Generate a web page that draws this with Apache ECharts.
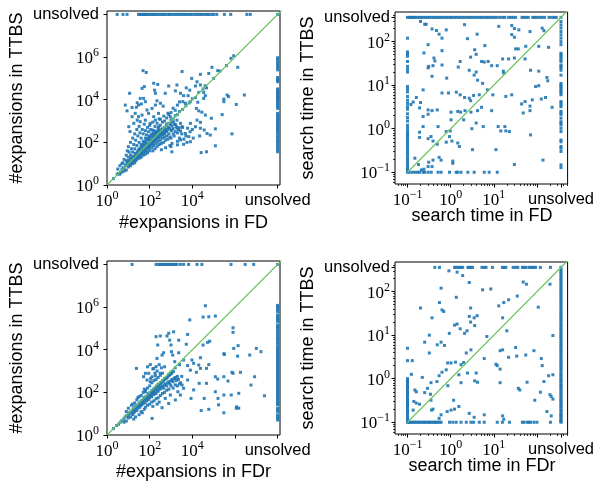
<!DOCTYPE html>
<html><head><meta charset="utf-8">
<script src="https://cdn.jsdelivr.net/npm/echarts@6/dist/echarts.min.js"></script>
<style>html,body{margin:0;padding:0;background:#fff}#c{width:597px;height:485px}</style>
</head><body><div id="c"></div>
<script>
// ---------------- DATA ----------------
const UNSOLVED_EXPANSIONS = 1e8;   // value plotted for "unsolved" in expansion panels
const UNSOLVED_TIME = 360;         // value plotted for "unsolved" in time panels (s)
const MIN_TIME = 0.1;              // time floor

// Panel 1: #expansions FD (x) vs TTBS (y)
const expFD_pairs = [
[49,2.3e5],[69,1.9e5],[3.3e3,2.1e5],[6.5e5,8.7e5],[8.7e5,1.15e6],[1.35e6,3.3e5],[8.3e4,3.3e5],[1.55e5,2.3e5],[5.9e4,1.7e5],[2.4e4,1.55e5],[9.3e3,1e5],[1.66e4,6.9e4],[2.4e4,4.9e4],[1.4e4,4.4e4],[5.2e3,3.6e4],[7.6e3,2.8e4],[1.9e3,4.9e4],[780,4.4e4],[1.6e3,2.6e4],[2.8e3,2e4],[3.9e3,1.55e4],[6.3e3,1.55e4],[8.1e3,8.1e3],[4.7e3,6.8e3],[3.6e3,8.1e3],[155,5.9e4],[240,5.2e4],[56,4.1e4],[44,3.4e4],[11.5,2e4],[170,2.8e4],[186,2e4],[540,2e4],[36,1.15e4],[63,8.1e3],[320,6.8e3],[430,5e3],[8.7,3e3],[15,4.3e3],[24,4.4e3],[30,5.6e3],
[4.6e4,3.6e4],[3.4e4,2.2e4],[4.1e4,1.55e4],[3.4e4,1.15e4],[1.8e4,7.6e3],[4.3e5,1.66e4],[5e5,1.4e4],[3e5,1.07e4],[2.75e6,1.66e4],[1.15e6,6e3],[3e5,8.1e3],[1.55e4,3.9e3],[2e4,3e3],[2.8e4,2.6e3],[4.1e4,1.9e3],[7.8e4,1.35e3],[2.5e5,2e3],[1.66e4,1.1e3],[2.4e4,870],[8.1e3,780],[1.4e4,540],[2.4e4,460],[3.6e4,380],[4.9e4,260],[6.9e4,220],[1.2e5,430],[7.2e5,250],[2.2e4,200],[1.2e5,69],[4.6e4,36],[2.6e4,33],[6.8e3,186],[8.1e3,107],[2.8e3,130],[3.9e3,81],[2e3,76],[1e3,63],[1.1e3,36],[2.8e3,340],[4.7e3,260],[6e3,460],[2.4e3,490],[1.6e3,690],
[7.2,5.6e3],[26,7.2e3],[41,6.3e3],[75,3.3e3],[129,3.9e3],[186,5.6e3],[220,8.9e3],[52,1.15e4],[21,2.3e3],[30,1.6e3],[44,1.9e3],[89,2.3e3],[155,1.6e3],[260,2.3e3],[15,1.6e3],[10.5,540],[12,320],[18,780],[26,1.1e3],[36,930],[63,1.1e3],[107,780],[186,1.1e3],[320,1.2e3],[460,1.7e3],[720,2.3e3],[930,1.6e3],[1.1e3,930],[1.9e3,1.1e3],[2.8e3,780],[3.3e3,540],[1.9e3,460],[1.1e3,380],[540,380],[380,260],[260,540],[129,380],
[2,2],[3,3.2],[3.5,3.5],[4.3,4],[5,5.2],[5.6,6.3],[6.3,6],[7.2,8],[8,9],[9,10],[10,11],[11,12.6],[12.6,12.6],[14,16],[16,17],[18,20],[20,19],[22,25],[25,28],[28,26],[32,35],[35,32],[40,45],[45,40],[50,56],[56,50],[63,71],[71,63],[79,89],[89,79],[100,112],[112,100],[126,126],[158,178],[200,200],[250,280],[316,316],[400,420],[500,500],[630,710],[790,790],[1000,1120],[1260,1260],[1580,1780],[2000,2000],[2500,2800],[3500,3500],[5000,5200],[7100,7100],[1e4,1.1e4],[1.4e4,1.26e4],[2e4,2.2e4],[3.2e4,3.2e4],[4e4,4.5e4],[1e5,1e5],[2e5,2.2e5],[4e5,4e5],
[6.3,16],[8,25],[9,40],[10,20],[10,63],[11,35],[12.6,100],[12.6,25],[14,50],[16,158],[16,35],[18,79],[20,250],[20,50],[22,126],[25,71],[25,400],[28,200],[32,100],[32,560],[35,280],[40,79],[40,158],[45,400],[50,112],[50,250],[56,710],[63,158],[63,355],[71,224],[79,500],[79,141],[89,316],[100,200],[100,630],[112,400],[126,250],[141,890],[158,355],[178,560],[200,316],[224,790],[250,450],[280,1260],[316,630],[400,890],[500,1000],[630,1400],[790,2000],[1000,2500],[1260,4000],[1580,3200],[2000,5600],[2500,7900],[5,10],[4,8],[3.2,5.6],[8,14],[5.6,11],
[8,5],[10,7],[12.6,8],[16,10],[20,11],[22,14],[25,16],[32,18],[35,22],[40,20],[45,28],[50,25],[56,35],[63,28],[71,40],[79,32],[89,50],[100,40],[100,63],[126,56],[126,79],[141,40],[158,71],[158,100],[178,50],[200,89],[200,126],[224,63],[250,112],[250,158],[280,79],[316,126],[316,178],[355,89],[400,158],[400,224],[450,100],[500,178],[500,250],[560,126],[630,200],[630,316],[710,141],[790,250],[890,178],[1000,355],[1000,158],[1260,250],[1260,450],[1410,200],[1580,316],[1780,560],[2000,280],[2240,400],[2500,158],[3200,250],[3500,500],[4000,141],[5000,200],[5600,100],[7900,316],[1e4,400],[1.1e4,158],[2000,112],[1120,89],[890,71],[560,56],[355,45],[4,3.2],[5,4],[6.3,4.5],[11,9],[14,11],[18,14],[28,20],
[9,12],[11,14],[13,18],[15,13],[17,22],[19,15],[21,30],[23,19],[26,36],[27,22],[30,45],[31,24],[34,50],[37,30],[39,60],[42,33],[46,70],[48,38],[52,85],[54,44],[58,110],[61,48],[66,95],[68,56],[74,130],[76,60],[83,150],[86,70],[95,180],[97,75],[105,140],[108,90],[118,210],[120,95],[135,170],[138,110],[150,260],[152,120],[165,200],[170,135],[190,280],[195,150],[215,240],[220,170],[240,330],[245,190],[270,290],[275,210],[300,380],[305,230],[340,300],[345,260],[380,420],[390,280],[440,350],[460,300],[520,450],[540,330],[600,600],[680,400],[750,520],[850,450],[950,700],[1100,600],[1300,900],[1500,700]
];
// FD expansions where TTBS is unsolved
const expFD_ttbsUnsolved = [3,5.6,8.7,30,35,40,48,55,62,70,85,100,120,140,170,200,250,300,380,450,550,700,850,1000,1300,1600,2000,2500,3200,4000,5000,6500,8000,1e4,1.3e4,1.6e4,2e4,2.5e4,3e4,4e4,5e4,6e4,8e4,1e5,1.4e5,3.2e5,6.3e5,3.6e6,5.2e6,1e8];
// TTBS expansions where FD is unsolved
const expFD_fdUnsolved = [9.3e5,7.8e5,6e5,4.9e5,3.9e5,3.2e5,2.5e5,1.1e5,9.3e4,8.1e4,6.9e4,3.2e4,2.8e4,2.4e4,2e4,1.8e4,1.5e4,1.3e4,1.15e4,9.6e3,8.1e3,6.7e3,5.6e3,4.7e3,3.9e3,2.3e3,1.9e3,1.6e3,1.3e3,1.1e3,930,780,650,540,450,380,320,260,200,165,130,110,87,69,56,45,36];

// Panel 3: #expansions FDr (x) vs TTBS (y)
const expFDr_pairs = [
[4.1e4,1.15e6],[3.2e4,3.4e5],[5.9e4,3.5e5],[1.2e5,3.8e5],[7.6e3,2.5e5],[8.1e5,1.07e5],[8.1e5,6.5e4],[1.33e3,6.9e4],[780,5.9e4],[650,4.4e4],[200,4.1e4],[316,4.4e4],[6e3,5.2e4],[870,2.8e4],[1e3,1.66e4],[2.3e3,2.8e4],[5.2e3,1.8e4],[240,1.66e4],[450,7.2e3],[380,5.6e3],[1.05e3,8.1e3],[1.2e3,5.6e3],[2.3e3,7.2e3],[1.5e3,2.75e3],[3.9e3,3.3e3],[9.6e3,3.3e3],[2.4e4,4.2e3],[5.2e4,2.2e4],[6.5e4,2.5e4],[3.2e4,1.66e4],[2e4,1.9e3],[1.15e4,2.3e3],[6e3,1.8e3],[8.1e3,1.1e3],[1.55e4,870],[2.4e4,1.33e3],[4.6e4,1.33e3],[5.9e4,2e3],[3.2e5,6e3],[1.33e6,5e3],[4.9e6,5.6e3],[1e7,1.15e4],[1.65e7,8.1e3],[1.4e6,1.55e4],[8.7e5,1.15e4],[3e5,6.5e3],[1.2e5,540],[1.55e5,420],[3e5,540],[4.7e5,340],[7.2e5,870],[8.1e5,780],[1.8e6,870],[8.3e6,540],[5.6e6,220],[1.5e6,90],[2.4e7,69],[6.7e5,75],[1.2e6,21],[1.5e6,18],[1.15e6,18],[3e5,75],[1.6e5,52],[1.7e5,26],[3e5,11],[1.2e5,107],[5.9e4,16],[2.6e4,14],[3.6e4,52],[4.6e4,265],[2.1e4,265],[1.15e4,130],[8.7e3,52],[3.9e3,155],[2.75e3,75],[1.6e3,44],[2.1e3,107],[930,75],[540,52],[780,30],[380,19],[130,6],[6e3,380],[3.3e3,220],[1.6e3,450],
[24,1330],[63,780],[107,2000],[155,1330],[220,3900],[200,1600],[130,540],[52,540],[75,380],[63,107],[107,316],[186,600],[316,780],[90,780],
[2,2],[2.8,2.8],[3.5,3.2],[4.2,4],[5,4.8],[6,5.6],[7,7],[8.3,8],[10,9.3],[11,11],[12.6,12],[15,14],[17,17],[20,19],[22,22],[26,25],[32,30],[35,35],[42,40],[50,48],[56,56],[66,63],[79,76],[89,89],[105,100],[126,120],[150,141],[178,166],[210,200],[250,240],[316,280],[400,355],[500,450],[630,500],[790,710],[1000,890],[1580,1410],[2500,2000],
[6.3,4],[8,4.5],[10,6.3],[12.6,7],[16,9],[18,11],[20,12.6],[25,14],[28,18],[35,20],[40,25],[45,28],[50,32],[60,32],[71,40],[79,50],[89,45],[100,56],[112,71],[126,63],[141,89],[158,79],[178,100],[200,89],[224,126],[250,112],[280,158],[316,141],[355,178],[400,200],[450,158],[500,224],[560,250],[630,200],[710,280],[790,316],[890,250],[1000,355],[1120,400],[1260,316],[1410,450],[1580,500],[1780,355],[2000,560],[2240,400],[2800,280],[3200,560],
[32,9],[40,12.6],[56,16],[63,20],[79,25],[100,28],[126,35],[158,40],[200,50],[250,56],[316,71],[400,89],[500,100],[630,126],[790,141],[1000,200],[1260,158],[1580,224],[2000,200],[2500,250],[280,35],[224,28],[45,11],[22,7],[18,5.6],[141,22],
[8,12.6],[10,18],[14,25],[20,32],[25,45],[32,63],[40,71],[50,100],[63,126],[79,158],[100,200],[126,280],[158,355],[200,400],[250,500],[316,630],[16,28],[28,56],[56,141],[112,450],[178,790],[400,790],[224,1000],[141,1260],[79,1580],[280,2000],[355,1410],[500,1580],
[9,8],[11,10],[13,11],[15,12],[17,15],[19,16],[21,18],[23,20],[26,22],[29,24],[33,27],[37,33],[41,35],[46,40],[52,44],[58,50],[65,55],[72,60],[82,70],[92,80],[103,85],[115,95],[130,110],[145,120],[162,135],[185,150],[205,170],[230,190],[260,210],[290,240],[330,270],[370,300],[420,330],[470,380],[530,420],[600,460],[680,520],[760,600],[860,650],[960,720],[1100,800],[1300,950]
];
const expFDr_ttbsUnsolved = [15,200,265,316,380,450,540,650,780,930,1120,1330,1590,1900,2750,3900,6700,1.66e4,2.8e4,6.5e5,3e6,7.5e6,1e8];
const expFDr_fdrUnsolved = [1.2e6,1.05e6,8.7e5,7.2e5,6e5,4.2e5,3.5e5,2.95e5,2.5e5,2e5,1.4e5,1.2e5,1e5,8.3e4,6.5e4,5.2e4,4.1e4,3.4e4,2.8e4,2.2e4,1.8e4,1.4e4,1.15e4,9.6e3,8.1e3,6.7e3,5.6e3,4.7e3,3.9e3,3.3e3,2.75e3,2.3e3,1.9e3,1.6e3,1.33e3,1.1e3,930,780,650,540,450,380,316,265,220,185,155,130,107,90,75,63,52,44,36,30,26,18,15,12.4,8.7,7.2,6,5];

// Panel 2: search time FD (x) vs TTBS (y), seconds
const timeFD_pairs = [
[0.2,290],[0.25,250],[0.27,250],[0.37,195],[0.47,180],[0.54,148],[0.79,186],[0.63,120],[2.1,245],[2.45,117],[4.1,148],[13,224],[26,234],[30,200],[38,186],[26,145],[30,126],[69,170],[132,204],[145,178],
[0.3,85],[0.24,55],[0.63,62],[0.41,42],[0.43,36],[0.31,27],[0.3,25],[0.39,28],[0.63,29],[0.37,16],[0.81,14.5],[1.5,26],[1.66,35],[2.9,44],[3.6,65],[3.9,51],[6.2,81],[5.2,35],[7.4,35],[12,28],[16,40],[16.6,21],[17,19],[22,40],[30,42],[32,68],[37,68],[55,78],[110,78],[186,74],[53,40],[110,21],[178,12.6],[110,9.7],[126,4.8],[224,3.1],[69,3.3],[53,4.2],[44,3.7],[48,2.3],[69,2.6],[26,6],[9.5,6],[4.6,6],[3.4,5.8],[2.9,4.4],[2.7,5],[2.1,5.2],[1.66,6],[1.35,6.9],[0.89,6.6],[0.63,6.6],[0.23,7.8],[0.16,5.2],[0.2,4],[0.19,3],[0.135,4.1],[0.12,3.6],[0.3,2.7],[0.3,2.15],[0.23,1.9],[0.37,2.6],[0.49,2.7],[1.02,2.4],[1.46,2.5],[1.7,2.4],[2.15,2.6],[2.95,2.4],[4.2,2.6],[5.2,3.1],[8.9,2.6],[2,1.6],[1.02,1.6],[3.9,1.35],[5.7,1.12],[3.1,1.0],[0.23,1.12],[0.51,1.12],[0.79,0.86],[0.98,0.89],[0.94,0.66],[0.35,0.66],[0.3,0.59],[0.19,0.83],[0.19,0.63],[0.39,0.52],[0.49,0.44],[0.79,0.49],[1.07,0.52],[1.46,0.47],[1.59,0.39],[3.2,0.33],[1.12,0.18],[1.12,0.16],[0.6,0.19],[0.54,0.22],[0.39,0.19],[0.37,0.135],[0.3,0.135],[0.24,0.117],[0.21,0.113],[0.148,0.21],[0.18,0.15],[0.31,0.17],[12.6,1.12],[14.5,0.89],[18,1.12],[19,0.89],[23,0.86],[11.2,0.33],[30,0.15],[71,0.72],[138,0.19],[78,4.6],[158,5.2],[93,9.3],[170,15],[7.1,7.8],[5.5,11],[4.2,13],[3.5,17],[3.9,20],[2.7,22],[8.9,28],[6,34],[19,5.5],[71,22]
];
const timeFD_ttbsUnsolved = [0.1,0.11,0.12,0.13,0.14,0.15,0.17,0.19,0.21,0.23,0.26,0.29,0.32,0.36,0.4,0.45,0.5,0.56,0.63,0.71,0.8,0.9,1.0,1.1,1.25,1.4,1.6,1.8,2.0,2.3,2.6,2.9,3.3,3.7,4.2,4.7,5.3,6,6.8,7.5,8.5,9.5,10.5,12,14,16,18,22,25,28,32,45,50,56,63,80,90,100,115,130,150,190,220,250,280,360];
const timeFD_fdUnsolved = [290,243,205,170,143,120,100,85,54,50,46,42,38,35,29,27,25,22,17,11,10,9.3,8.5,7.8,7.1,6.6,6,4.2,3.9,3.5,3.2,2.5,2.3,2.1,1.74,1.45,1.34,1.22,1.02,0.86,0.55,0.5,0.39,0.355,0.3,0.148,0.128];
const timeFD_fdAtMin = [120,58,52,46,35,27,23,20,9.3,8,7,5.5,4.5,3.8,3.2,2.8,2.2,1.8,1.5,1.2,1.05,0.9,0.8,0.72,0.65,0.58,0.52,0.47,0.42,0.38,0.34,0.3,0.27,0.24,0.21,0.19,0.17,0.15,0.135,0.12,0.11,0.1];
const timeFD_ttbsAtMin = [0.11,0.128,0.147,0.17,0.19,0.23,0.25,0.3,0.355,0.51,0.6,0.94,1.34,1.46,1.74,2.5,3.5,6,7.8,12];

// Panel 4: search time FDr (x) vs TTBS (y), seconds
const timeFDr_pairs = [
[0.91,300],[1.41,280],[1.9,234],[2.7,162],[0.6,120],[1.35,74],[5.5,110],[8.5,115],[48,166],[57,148],[200,148],[35,79],[22,65],[17,56],[13,47],[107,44],[0.55,56],[0.63,38],[0.69,35],[0.2,42],[0.37,25],[2.9,42],[2.7,27],[4.1,28],[3.6,16.6],[3.5,25],[2.9,20],[1.41,18],[1.23,17],[1.66,14],[2.1,11],[2.4,12.6],[0.93,11],[0.32,10],[0.25,6.9],[0.6,6.9],[0.72,5.8],[6.9,9.3],[16,25],[20,12.6],[14,4.4],[16,4.6],[32,5.2],[34,3.3],[22,3.1],[55,3.5],[85,4.4],[126,2.9],[132,2],[234,9.8],[234,1.23],[186,1.17],[145,0.86],[120,0.49],[59,0.83],[40,0.55],[37,0.6],[89,0.32],[200,0.43],[214,0.39],[234,0.34],[170,0.176],[214,0.14],[14,0.81],[11.2,2.15],[12,2],[14,1.66],[6,2.9],[3.9,1.35],[3.6,0.89],[4.2,0.83],[2.45,1.35],[1.55,1.23],[1.74,0.81],[2,2.35],[1.29,2.4],[1.02,2.3],[0.85,2.3],[0.79,1.6],[0.63,1.41],[0.86,0.69],[0.54,1.17],[0.48,0.86],[0.35,0.81],[0.29,0.6],[0.25,0.48],[0.34,0.44],[0.22,1.07],[0.32,3.9],[0.49,6],[0.129,2.6],[0.123,1.26],[0.148,0.55],[0.16,0.5],[0.14,0.3],[0.16,0.275],[0.19,0.26],[0.135,0.19],[0.35,0.32],[0.39,0.2],[0.36,0.19],[0.54,0.123],[0.6,0.148],[0.83,0.176],[1.02,0.19],[1.17,0.32],[1.23,0.2],[1.55,0.23],[2.7,0.16],[3.5,0.13],[6,0.148],[16,0.14],[17,0.117],[2.95,4.6],[2.3,3.9],[1.74,2.1]
];
const timeFDr_ttbsUnsolved = [0.43,0.55,1.23,1.34,1.46,1.6,1.74,1.9,2.5,2.7,2.95,3.2,5.3,6,6.6,9.3,15.8,17.3,19,28,32,36,46,50,55,65,71,78,85,93,120,205,360];
const timeFDr_fdrUnsolved = [0.1,0.105,0.11,0.12,0.13,0.14,0.15,0.16,0.18,0.19,0.21,0.23,0.25,0.27,0.3,0.32,0.35,0.38,0.42,0.45,0.5,0.55,0.6,0.65,0.7,0.77,0.85,0.92,1.0,1.1,1.2,1.3,1.45,1.6,1.75,1.9,2.1,2.3,2.5,2.75,3.0,3.3,3.6,4.0,4.4,4.8,5.3,5.8,6.4,7.0,7.7,8.5,9.3,10.2,11.2,12.3,13.5,15,16.5,18,20,22,24,26.5,29,32,35,39,43,47,52,57,63,69,76,84,92,100,110,122,134,148,163,180,198,218,240,265,290,320];
const timeFDr_fdrAtMin = [5,2.6,1.0,0.92,0.85,0.78,0.72,0.66,0.6,0.55,0.5,0.46,0.42,0.38,0.35,0.32,0.29,0.27,0.25,0.23,0.21,0.19,0.175,0.16,0.145,0.13,0.12,0.11,0.1];
const timeFDr_ttbsAtMin = [0.107,0.115,0.123,0.135,0.147,0.16,0.176,0.19,0.21,0.23,0.25,0.27,0.3,0.325,0.355,0.39,0.425,0.46,0.5,0.55,0.6,0.94,1.12,1.34,1.74,2.3,2.95,3.4,4.6,6,12,15.8,23,46,50,59,65,71,85,100,205];

// Axis tick values (raw units)
const expMajorTicks = [1, 1e2, 1e4, 1e6, UNSOLVED_EXPANSIONS];
const expXLabelTicks = [1, 1e2, 1e4, UNSOLVED_EXPANSIONS];
const expYLabelTicks = [1, 1e2, 1e4, 1e6, UNSOLVED_EXPANSIONS];
const timeMajorTicks = [0.1, 1, 10, 100, UNSOLVED_TIME];
const timeXLabelTicks = [0.1, 1, 10, UNSOLVED_TIME];
const timeYLabelTicks = [0.1, 1, 10, 100, UNSOLVED_TIME];
const timeMinorTicks = [0.06,0.07,0.08,0.09,0.2,0.3,0.4,0.5,0.6,0.7,0.8,0.9,2,3,4,5,6,7,8,9,20,30,40,50,60,70,80,90,200,300,400,500];

const titles = {
  p1x: '#expansions in FD', p1y: '#expansions in TTBS',
  p2x: 'search time in FD', p2y: 'search time in TTBS',
  p3x: '#expansions in FDr', p3y: '#expansions in TTBS',
  p4x: 'search time in FDr', p4y: 'search time in TTBS'
};

// ---------------- BUILD ----------------
const L = v => Math.log10(v);
function assemble(pairs, xUnsolvedY, yUnsolvedX, U, xMinY, yMinX) {
  const pts = pairs.map(p => [p[0], p[1]]);
  xUnsolvedY.forEach(x => pts.push([x, U]));           // TTBS unsolved
  yUnsolvedX.forEach(y => pts.push([U, y]));           // other unsolved
  if (xMinY) xMinY.forEach(y => pts.push([MIN_TIME, y]));
  if (yMinX) yMinX.forEach(x => pts.push([x, MIN_TIME]));
  return pts.map(p => [L(p[0]), L(p[1])]);
}
const panels = [
  { grid:{left:107,top:11,width:173,height:174}, x:[0,8.11], y:[0,8.16], kind:'exp',
    pts: assemble(expFD_pairs, expFD_ttbsUnsolved, expFD_fdUnsolved, UNSOLVED_EXPANSIONS),
    diag:[1, 2e8] },
  { grid:{left:395,top:12,width:174,height:172}, x:[-1.29,2.71], y:[-1.27,2.68], kind:'time',
    pts: assemble(timeFD_pairs, timeFD_ttbsUnsolved, timeFD_fdUnsolved, UNSOLVED_TIME, timeFD_fdAtMin, timeFD_ttbsAtMin),
    diag:[0.1, 1000] },
  { grid:{left:107,top:261,width:173,height:174}, x:[0,8.11], y:[0,8.16], kind:'exp',
    pts: assemble(expFDr_pairs, expFDr_ttbsUnsolved, expFDr_fdrUnsolved, UNSOLVED_EXPANSIONS),
    diag:[1, 2e8] },
  { grid:{left:395,top:262,width:174,height:172}, x:[-1.29,2.71], y:[-1.27,2.68], kind:'time',
    pts: assemble(timeFDr_pairs, timeFDr_ttbsUnsolved, timeFDr_fdrUnsolved, UNSOLVED_TIME, timeFDr_fdrAtMin, timeFDr_ttbsAtMin),
    diag:[0.1, 1000] }
];

const rich = {
  b: { fontFamily:'Liberation Serif', fontSize:17, color:'#000', lineHeight:20, verticalAlign:'bottom' },
  s: { fontFamily:'Liberation Serif', fontSize:12, color:'#000', lineHeight:12, verticalAlign:'top' },
  u: { fontFamily:'Liberation Sans', fontSize:16.5, color:'#000', lineHeight:20 }
};
function makeFormatter(U) {
  const uPos = L(U);
  return v => {
    if (Math.abs(v - uPos) < 1e-6) return '{u|unsolved}';
    const n = Math.round(v);
    return '{b|10}{s|' + (n < 0 ? '\u2212' + (-n) : n) + '}';
  };
}

const grids = [], xAxes = [], yAxes = [], series = [];
panels.forEach((p, i) => {
  grids.push(Object.assign({ show:true, borderColor:'#000', borderWidth:1, backgroundColor:'#fff' }, p.grid));
  const isExp = p.kind === 'exp';
  const U = isExp ? UNSOLVED_EXPANSIONS : UNSOLVED_TIME;
  const major = (isExp ? expMajorTicks : timeMajorTicks).map(L);
  const xl = (isExp ? expXLabelTicks : timeXLabelTicks).map(L);
  const yl = (isExp ? expYLabelTicks : timeYLabelTicks).map(L);
  const common = { type:'value', splitLine:{show:false}, axisLine:{show:false, onZero:false} };
  xAxes.push(Object.assign({}, common, { gridIndex:i, min:p.x[0], max:p.x[1], position:'bottom',
    axisTick:{ show:true, customValues:major, length:3.5, lineStyle:{color:'#000', width:1} },
    axisLabel:{ customValues:xl, formatter:makeFormatter(U), rich:rich, margin:5, hideOverlap:false } }));
  yAxes.push(Object.assign({}, common, { gridIndex:i, min:p.y[0], max:p.y[1], position:'left',
    axisTick:{ show:true, customValues:major, length:3.5, lineStyle:{color:'#000', width:1} },
    axisLabel:{ customValues:yl, formatter:makeFormatter(U), rich:rich, margin:isExp ? 8 : 5, hideOverlap:false } }));
  const xi = xAxes.length - 1, yi = yAxes.length - 1;
  series.push({ type:'scatter', xAxisIndex:xi, yAxisIndex:yi, data:p.pts,
    symbol:'rect', symbolSize:3, itemStyle:{ color:'#1f77b4', opacity:0.9 }, z:2, silent:true });
  const d = [[L(p.diag[0]), L(p.diag[0])], [L(p.diag[1]), L(p.diag[1])]];
  series.push({ type:'line', xAxisIndex:xi, yAxisIndex:yi, data:d, showSymbol:false,
    lineStyle:{ color:'#98df8a', width:1.3 }, z:3, silent:true, clip:true });
  series.push({ type:'line', xAxisIndex:xi, yAxisIndex:yi, data:d, showSymbol:false,
    lineStyle:{ color:'#1a8a1a', width:0.5 }, z:4, silent:true, clip:true });
  if (!isExp) {
    const minor = timeMinorTicks.map(L);
    xAxes.push(Object.assign({}, common, { gridIndex:i, min:p.x[0], max:p.x[1], position:'bottom',
      axisTick:{ show:true, customValues:minor, length:2, lineStyle:{color:'#000', width:0.8} },
      axisLabel:{ show:false } }));
    yAxes.push(Object.assign({}, common, { gridIndex:i, min:p.y[0], max:p.y[1], position:'left',
      axisTick:{ show:true, customValues:minor, length:2, lineStyle:{color:'#000', width:0.8} },
      axisLabel:{ show:false } }));
  }
});

const titleFont = '18px "Liberation Sans"';
function txt(t, x, y, rot) {
  return { type:'text', x:x, y:y, rotation:rot || 0, silent:true,
    style:{ text:t, font:titleFont, fill:'#000', textAlign:'center', textVerticalAlign:'middle', verticalAlign:'middle' } };
}
const graphics = [
  txt(titles.p1x, 193.5, 223), txt(titles.p1y, 17, 98, Math.PI/2),
  txt(titles.p2x, 482, 216.5), txt(titles.p2y, 308.5, 98, Math.PI/2),
  txt(titles.p3x, 193.5, 472), txt(titles.p3y, 17, 348, Math.PI/2),
  txt(titles.p4x, 482, 466), txt(titles.p4y, 308.5, 348, Math.PI/2)
];

const chart = echarts.init(document.getElementById('c'), null, { renderer:'canvas' });
chart.setOption({
  animation:false,
  backgroundColor:'#fff',
  grid: grids, xAxis: xAxes, yAxis: yAxes, series: series,
  graphic: graphics
});
</script></body></html>
